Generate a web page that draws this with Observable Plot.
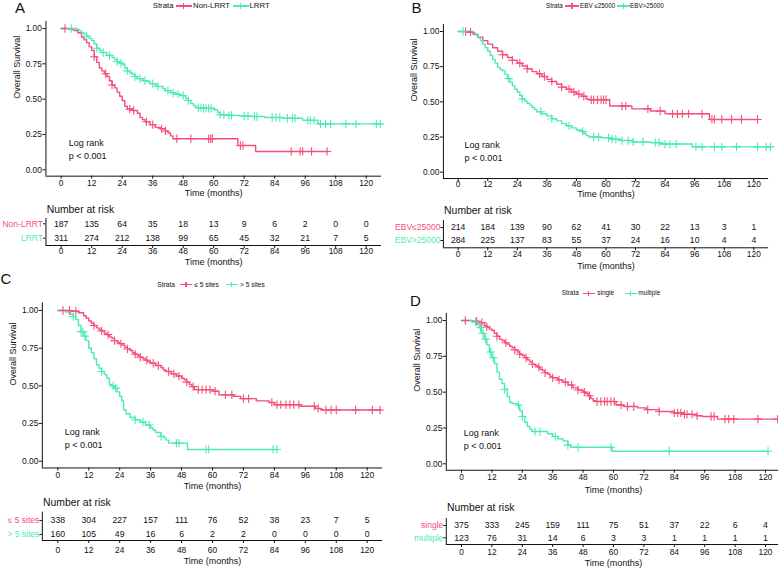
<!DOCTYPE html>
<html><head><meta charset="utf-8">
<script src="https://cdn.jsdelivr.net/npm/d3@7"></script>
<script src="https://cdn.jsdelivr.net/npm/@observablehq/plot@0.6"></script>
<style>
body{margin:0;background:#fff;}
#root{position:relative;width:778px;height:568px;overflow:hidden;background:#fff;font-family:"Liberation Sans",Arial,Helvetica,sans-serif;color:#111;}
#root svg{position:absolute;overflow:visible;}
</style></head><body><div id="root"></div>
<script>
// ---------------- DATA ----------------
const riskTimes = [0,12,24,36,48,60,72,84,96,108,120];
const yTicks = [0,0.25,0.5,0.75,1];

// Panel A
const groupsA = ["Non-LRRT","LRRT"];
const nonLrrtSteps = [[0,1],[3,0.995],[5,0.985],[6.5,0.97],[8,0.94],[9,0.92],[10,0.9],[11,0.87],[12,0.845],[13,0.8],[14,0.76],[15,0.72],[16,0.7],[17,0.68],[18,0.66],[19,0.63],[20,0.6],[21,0.58],[22,0.55],[23,0.52],[24,0.49],[25,0.45],[26,0.43],[28,0.42],[30,0.4],[31,0.37],[32,0.355],[33,0.34],[35,0.32],[37,0.3],[39,0.29],[41,0.275],[42,0.26],[43,0.24],[44,0.22],[69.5,0.172],[76.5,0.13],[104.6,0.13]];
const lrrtSteps = [[0,1],[6,0.995],[7,0.985],[8,0.97],[9,0.96],[10,0.945],[11,0.93],[12,0.915],[13,0.89],[14,0.86],[15,0.845],[16,0.83],[18,0.81],[20,0.795],[21,0.78],[22,0.765],[23,0.755],[24,0.745],[25,0.72],[26,0.7],[27,0.685],[28,0.675],[29,0.66],[30,0.645],[32,0.63],[34,0.625],[35,0.61],[37,0.6],[38,0.59],[40,0.575],[41,0.56],[43,0.545],[45,0.535],[47,0.525],[49,0.505],[50,0.49],[51,0.47],[52,0.455],[53,0.44],[56,0.435],[60,0.425],[61.5,0.405],[62.5,0.39],[66,0.385],[70,0.38],[75,0.377],[80,0.37],[87,0.365],[95,0.35],[101,0.325],[126,0.325]];
const nonLrrtCensor = [1.5,13,17.5,20,27,28.5,33.5,36,39.5,41,45.5,51,58,58.8,59.5,70.5,71.5,90.5,94,95,98.5,104.6];
const lrrtCensor = [4,10,14,16.5,19,22,23.5,26,29,31,33,36,38,42,44,46,48,50,54,55,56,57,58,59,62.5,64,66,67,72,73.5,76,77,83,84.5,86,89,91,92,97,98,99.5,102,104,106,112,116,124,125.5];
const nonLrrtRisk = [187,135,64,35,18,13,9,6,2,0,0];
const lrrtRisk = [311,274,212,138,99,65,45,32,21,7,5];

// Panel B
const groupsB = ["EBV\u226425000","EBV>25000"];
const legendB = ["EBV \u226425000","EBV>25000"];
const ebvLowSteps = [[0,1],[4,0.995],[6,0.98],[8,0.96],[10,0.935],[12,0.91],[14,0.885],[16,0.86],[18,0.835],[20,0.815],[22,0.795],[24,0.775],[26,0.755],[28,0.735],[30,0.715],[32,0.7],[34,0.68],[36,0.66],[38,0.645],[40,0.625],[42,0.605],[44,0.59],[46,0.57],[48,0.555],[50,0.54],[52,0.52],[53,0.515],[61.5,0.47],[70.5,0.45],[78,0.435],[84,0.415],[102,0.375],[121.5,0.375]];
const ebvHighSteps = [[0,1],[6,0.99],[7,0.975],[8,0.955],[9,0.935],[10,0.91],[11,0.885],[12,0.86],[13,0.83],[14,0.8],[15,0.775],[16,0.745],[17,0.73],[18,0.72],[19,0.695],[20,0.665],[21,0.64],[22,0.615],[23,0.59],[24,0.57],[25,0.545],[26,0.52],[27,0.505],[28,0.49],[29,0.475],[30,0.46],[31,0.445],[32,0.43],[34,0.415],[36,0.4],[38,0.38],[40,0.365],[42,0.345],[44,0.33],[46,0.315],[48,0.3],[50,0.29],[51,0.275],[52,0.26],[53,0.25],[58,0.245],[62,0.235],[66,0.225],[71,0.215],[78,0.21],[82,0.2],[95,0.18],[126.8,0.18]];
const ebvLowCensor = [3,5,18,22,25,28,33,35,38,42,45,47,49,51,54,55,56.5,58,59,60,66.5,68,77,82,87,89,91,93.5,99,103,104,107,111,115,121.5];
const ebvHighCensor = [2,20.5,26,33.5,38,45,50.5,55,57,61,62.5,64,66.5,69,71,75,80,81.5,84,86,88.5,96.5,99,104,107,113,121.5,125,126.8];
const ebvLowRisk = [214,184,139,90,62,41,30,22,13,3,1];
const ebvHighRisk = [284,225,137,83,55,37,24,16,10,4,4];

// Panel C
const groupsC = ["\u2264 5 sites","> 5 sites"];
const le5Steps = [[0,1],[5,0.995],[8,0.985],[10,0.965],[11,0.95],[12,0.93],[13,0.915],[14,0.9],[15,0.885],[16,0.875],[17,0.865],[18,0.85],[19,0.84],[20,0.825],[21,0.815],[22,0.8],[23,0.79],[24,0.78],[25,0.77],[26,0.755],[27,0.745],[28,0.735],[29,0.72],[30,0.71],[31,0.7],[32,0.69],[33,0.68],[34,0.67],[35,0.66],[36,0.65],[38,0.635],[40,0.62],[41,0.605],[42,0.595],[44,0.58],[46,0.565],[48,0.55],[49,0.54],[50,0.525],[51,0.51],[52,0.495],[53,0.475],[60.5,0.465],[62.5,0.44],[68,0.43],[71,0.415],[77,0.4],[82,0.39],[84,0.375],[94,0.365],[100,0.35],[102,0.34],[125.3,0.34]];
const gt5Steps = [[0,1],[3,0.99],[5,0.975],[6,0.96],[7,0.94],[8,0.9],[9,0.86],[10,0.83],[11,0.8],[12,0.75],[13,0.72],[14,0.68],[15,0.64],[16,0.615],[17,0.595],[18,0.575],[19,0.55],[20,0.51],[21,0.5],[22,0.485],[23,0.46],[24,0.43],[24.8,0.4],[25.5,0.34],[26.5,0.315],[28,0.29],[30,0.275],[32,0.26],[34,0.24],[36,0.22],[37,0.205],[38,0.19],[40,0.165],[41,0.155],[42,0.14],[43,0.12],[50.3,0.078],[85,0.078]];
const le5Censor = [2,4.5,7,14,17,19.5,22,24.5,27,30,32,34.5,37,39,43,45,47,50,52.5,54.5,56,57.5,59,61,65,67.5,72,74,83,85,86.5,88.5,90,91.5,93.5,99.5,101,104,106,108,115.5,122,125];
const gt5Censor = [6,9,9.8,10.5,17,21.5,22.5,30,33,35.5,40,46,47,57.5,58.5,83.5,85];
const le5Risk = [338,304,227,157,111,76,52,38,23,7,5];
const gt5Risk = [160,105,49,16,6,2,2,0,0,0,0];

// Panel D
const groupsD = ["single","multiple"];
const singleSteps = [[0,1],[4,0.995],[7,0.985],[9,0.965],[10,0.955],[11,0.94],[12,0.93],[13,0.91],[14,0.89],[15,0.87],[16,0.86],[17,0.845],[18,0.835],[19,0.82],[20,0.81],[21,0.795],[22,0.78],[23,0.765],[24,0.755],[25,0.74],[26,0.725],[27,0.71],[28,0.695],[29,0.685],[30,0.675],[31,0.66],[32,0.65],[33,0.635],[34,0.625],[35,0.61],[36,0.6],[38,0.585],[40,0.57],[42,0.55],[44,0.53],[46,0.515],[48,0.5],[49,0.49],[50,0.475],[51,0.455],[52,0.44],[53,0.435],[61,0.41],[64,0.4],[69.5,0.39],[73,0.378],[78,0.365],[84,0.355],[88,0.345],[93,0.335],[95,0.33],[101,0.312],[124.8,0.312]];
const multipleSteps = [[0,1],[4,0.99],[6,0.975],[7,0.95],[8,0.91],[9,0.87],[10,0.83],[11,0.78],[12,0.74],[13,0.7],[14,0.64],[15,0.59],[16,0.56],[17,0.52],[18,0.47],[19,0.43],[20,0.42],[22,0.41],[23,0.37],[24,0.33],[25,0.29],[26,0.26],[27,0.24],[28,0.225],[34,0.21],[36,0.19],[38,0.175],[40,0.16],[42,0.13],[43,0.115],[59.5,0.088],[121,0.088]];
const singleCensor = [1.5,6,8,10,14,17.5,21,23,25.5,28,30.5,33,36,38.5,41,43.5,46,48.5,50.5,53.5,55,56.5,57.5,59,60.3,63,65.5,68,73.5,78,84,85.3,86.6,88,89,91,93,98.5,99.7,104,105.5,107.5,117,124.8];
const multipleCensor = [5.5,7.5,8.5,9.5,11.5,12.5,17,22.5,24,29,31,37,42,46,59,82,121];
const singleRisk = [375,333,245,159,111,75,51,37,22,6,4];
const multipleRisk = [123,76,31,14,6,3,3,1,1,1,1];

// ---------------- STYLE / LAYOUT ----------------
const FONT = '"Liberation Sans", Arial, Helvetica, sans-serif';
const INK = "#111";
const COLORS = ["#F54F78", "#4DEBB3"];

const panels = [
  {letter:"A", letterPos:[15,0], groups:groupsA, legendLabels:groupsA,
   steps:[nonLrrtSteps,lrrtSteps], censor:[nonLrrtCensor,lrrtCensor], risk:[nonLrrtRisk,lrrtRisk],
   left:0, top:0, width:390, height:200, x0:60.7, x120:365.7, y1:28, y0:169.3, tickPad:1.3, titleDy:17.3, lr:[3.0,0.155],
   table:{top:200,height:70,frameTop:218,frameBottom:245,row1:223.3,row2:237.7,tickPad:0,titleDy:16.7,narDy:-9},
   legend:{cy:6,font:7.8,strataX:152.7,items:[[175.5,16,193],[232.5,16,249.5]]}},
  {letter:"B", letterPos:[411.5,0], groups:groupsB, legendLabels:legendB,
   steps:[ebvLowSteps,ebvHighSteps], censor:[ebvLowCensor,ebvHighCensor], risk:[ebvLowRisk,ebvHighRisk],
   left:390, top:0, width:388, height:200, x0:457.7, x120:753.3, y1:31, y0:171.7, tickPad:-0.5, titleDy:15.3, lr:[2.6,0.158],
   table:{top:200,height:70,frameTop:220,frameBottom:247.3,row1:227,row2:240,tickPad:0.7,titleDy:18.4,narDy:-10},
   legend:{cy:6,font:6.3,strataX:546,items:[[565,14,580],[617,12.5,630]]}},
  {letter:"C", letterPos:[0.5,270.5], groups:groupsC, legendLabels:groupsC,
   steps:[le5Steps,gt5Steps], censor:[le5Censor,gt5Censor], risk:[le5Risk,gt5Risk],
   left:0, top:290, width:390, height:200, x0:57.3, x120:366.7, y1:310, y0:460.7, tickPad:1.5, titleDy:18.5, lr:[2.7,0.157],
   table:{top:490,height:78,frameTop:511.7,frameBottom:540,row1:520,row2:534,tickPad:3.3,titleDy:21,narDy:-10},
   legend:{cy:284.7,font:6.6,strataX:157.3,items:[[180,12,194.3],[225.5,12.5,240]]}},
  {letter:"D", letterPos:[410,293], groups:groupsD, legendLabels:groupsD,
   steps:[singleSteps,multipleSteps], censor:[singleCensor,multipleCensor], risk:[singleRisk,multipleRisk],
   left:390, top:290, width:392, height:200, x0:461, x120:765, y1:320, y0:463.3, tickPad:1.25, titleDy:20.3, lr:[0.9,0.18],
   table:{top:490,height:78,frameTop:518,frameBottom:544,row1:525,row2:537.3,tickPad:1.7,titleDy:18.7,narDy:-10.7},
   legend:{cy:293.3,font:6.4,strataX:561.7,items:[[582.5,12,597.3],[624.5,12.5,638.3]]}}
];

const root = document.getElementById("root");
function survAt(steps, t) {
  let s = steps[0][1];
  for (const [ti, si] of steps) { if (ti <= t) s = si; else break; }
  return s;
}
function put(svg, left, top) {
  svg.style.left = left + "px"; svg.style.top = top + "px";
  root.appendChild(svg);
}
function hx(p) {
  const pm = (p.x120 - p.x0) / 120;
  return {rl: p.x0 - 6 * pm, rr: p.x0 + 126 * pm};
}

function kmPlot(p) {
  const {rl, rr} = hx(p);
  const pu = p.y0 - p.y1;
  const rt = p.y1 - 0.05 * pu, rb = p.y0 + 0.045 * pu;
  const lines = p.groups.flatMap((g, i) => p.steps[i].map(([t, s]) => ({t, s, g})));
  const cens = p.groups.flatMap((g, i) => p.censor[i].map(t => ({t, s: survAt(p.steps[i], t), g})));
  const svg = Plot.plot({
    width: p.width, height: p.height,
    marginLeft: rl - p.left, marginRight: p.left + p.width - rr,
    marginTop: rt - p.top, marginBottom: p.top + p.height - rb,
    style: {fontFamily: FONT, fontSize: "8.4px", color: INK, background: "transparent", overflow: "visible"},
    x: {domain: [-6, 126], label: null},
    y: {domain: [-0.045, 1.05], label: null},
    color: {domain: p.groups, range: COLORS},
    marks: [
      Plot.ruleX([-6], {stroke: INK, strokeWidth: 1}),
      Plot.ruleY([-0.045], {stroke: INK, strokeWidth: 1}),
      Plot.axisX({ticks: riskTimes, tickSize: 3, tickPadding: p.tickPad, label: null, stroke: INK, fill: INK}),
      Plot.axisY({ticks: yTicks, tickFormat: d3.format(".2f"), tickSize: 3, tickPadding: 1, label: null, stroke: INK, fill: INK}),
      Plot.line(lines, {x: "t", y: "s", z: "g", stroke: "g", curve: "step-after", strokeWidth: 1.4}),
      Plot.dot(cens, {x: "t", y: "s", stroke: "g", symbol: "plus", r: 2.8, strokeWidth: 1.1}),
      Plot.text(["Log rank\np < 0.001"], {x: p.lr[0], y: p.lr[1], text: d => d, textAnchor: "start", lineAnchor: "middle", fontSize: 9, lineHeight: 1.45, fill: INK}),
      Plot.text(["Time (months)"], {text: d => d, frameAnchor: "bottom", dy: p.titleDy, lineAnchor: "middle", fontSize: 9, fill: INK}),
      Plot.text(["Overall Survival"], {text: d => d, frameAnchor: "left", rotate: -90, dx: -29, lineAnchor: "middle", fontSize: 9, fill: INK})
    ]
  });
  put(svg, p.left, p.top);
}

function riskTable(p) {
  const T = p.table;
  const {rl, rr} = hx(p);
  const s = T.row2 - T.row1;
  const d0 = -(T.row1 - T.frameTop) / s, d1 = 1 + (T.frameBottom - T.row2) / s;
  const cells = p.groups.flatMap((g, i) => riskTimes.map((tm, j) => ({t: tm, i, n: p.risk[i][j]})));
  const rows = p.groups.map((g, i) => ({g, i}));
  const svg = Plot.plot({
    width: p.width, height: T.height,
    marginLeft: rl - p.left, marginRight: p.left + p.width - rr,
    marginTop: T.frameTop - T.top, marginBottom: T.top + T.height - T.frameBottom,
    style: {fontFamily: FONT, fontSize: "8.4px", color: INK, background: "transparent", overflow: "visible"},
    x: {domain: [-6, 126], label: null},
    y: {domain: [d0, d1], reverse: true, label: null},
    color: {domain: p.groups, range: COLORS},
    marks: [
      Plot.ruleX([-6], {stroke: INK, strokeWidth: 1}),
      Plot.ruleY([d1], {stroke: INK, strokeWidth: 1}),
      Plot.axisX({ticks: riskTimes, tickSize: 3, tickPadding: T.tickPad, label: null, stroke: INK, fill: INK}),
      Plot.axisY({ticks: [0, 1], tickFormat: () => "", tickSize: 2.5, label: null, stroke: INK}),
      Plot.text(cells, {x: "t", y: "i", text: "n", fontSize: 8.7, fill: INK}),
      Plot.text(rows, {y: "i", text: "g", fill: "g", frameAnchor: "left", textAnchor: "end", dx: -3, fontSize: 8.5}),
      Plot.text(["Number at risk"], {text: d => d, frameAnchor: "top-left", dx: 0.7, dy: T.narDy, textAnchor: "start", lineAnchor: "middle", fontSize: 10.4, fill: INK}),
      Plot.text(["Time (months)"], {text: d => d, frameAnchor: "bottom", dy: T.titleDy, lineAnchor: "middle", fontSize: 9, fill: INK})
    ]
  });
  put(svg, p.left, T.top);
}

function htmlText(txt, x, cy, size, color) {
  const d = document.createElement("div");
  d.textContent = txt;
  d.style.cssText = `position:absolute;left:${x}px;top:${cy}px;transform:translateY(-50%);font-size:${size}px;line-height:1;white-space:nowrap;color:${color || INK}`;
  root.appendChild(d);
}
function legend(p) {
  const L = p.legend;
  htmlText("Strata", L.strataX, L.cy, L.font);
  p.legendLabels.forEach((lab, i) => {
    const [kx, kw, lx] = L.items[i];
    const c = COLORS[i];
    const line = document.createElement("div");
    line.style.cssText = `position:absolute;left:${kx}px;top:${L.cy - 0.6}px;width:${kw}px;height:1.2px;background:${c}`;
    const v = document.createElement("div");
    v.style.cssText = `position:absolute;left:${kx + kw / 2 - 0.6}px;top:${L.cy - 2.8}px;width:1.2px;height:5.6px;background:${c}`;
    root.append(line, v);
    htmlText(lab, lx, L.cy, L.font);
  });
}
function letter(p) {
  const d = document.createElement("div");
  d.textContent = p.letter;
  d.style.cssText = `position:absolute;left:${p.letterPos[0]}px;top:${p.letterPos[1]}px;font-size:15px;line-height:1;color:${INK}`;
  root.appendChild(d);
}

for (const p of panels) { kmPlot(p); riskTable(p); legend(p); letter(p); }
</script></body></html>
